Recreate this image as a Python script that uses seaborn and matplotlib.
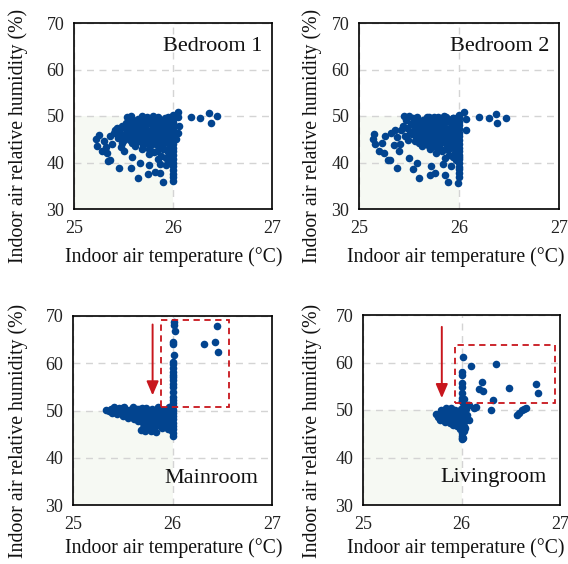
import numpy as np
import pandas as pd
import matplotlib
matplotlib.use("Agg")
import matplotlib.pyplot as plt
import seaborn as sns
from matplotlib.patches import Rectangle

sns.set_theme(style="white")
plt.rcParams['font.family'] = ['Liberation Serif', 'DejaVu Serif']

# ---------------- data ----------------
rooms = ["Bedroom 1", "Bedroom 2", "Mainroom", "Livingroom"]

bed1_x = [25.22, 25.25, 25.23, 25.28, 25.33, 25.32, 25.36, 25.34, 25.45, 25.58, 25.65, 25.67, 25.75,
          25.76, 25.82, 25.87, 25.90, 25.87, 25.93, 25.59, 25.50, 25.47, 25.40, 25.36, 25.30, 25.38,
          26.18, 26.27, 26.36, 26.44, 26.38, 26.05, 26.05, 26.06, 26.05, 26.03,
          26.00, 26.00, 26.00, 26.00, 26.00, 26.00, 26.00, 26.00, 26.00, 26.00, 26.00, 26.00, 26.00,
          26.00, 26.00, 26.00, 26.00, 26.00, 26.00,
          25.97, 25.97, 25.97, 25.97, 25.97, 25.97, 25.97,
          25.43, 25.45, 25.47, 25.48, 25.50, 25.52, 25.53, 25.54, 25.56, 25.57, 25.58, 25.59, 25.60,
          25.61, 25.62, 25.63, 25.64, 25.65, 25.66, 25.67, 25.68, 25.69, 25.70, 25.71, 25.72, 25.73,
          25.74, 25.75, 25.76, 25.77, 25.78, 25.79, 25.80, 25.81, 25.82, 25.83, 25.84, 25.85, 25.86,
          25.87, 25.88, 25.89, 25.90, 25.91, 25.92, 25.93, 25.94, 25.95, 25.96, 25.97, 25.98, 25.99,
          25.55, 25.62, 25.68, 25.72, 25.78, 25.83, 25.88, 25.92, 25.60, 25.66, 25.74, 25.80, 25.86,
          25.90, 25.94, 25.70, 25.76, 25.84, 25.52, 25.58, 25.64, 25.80, 25.88, 25.96, 25.93, 25.85,
          25.48, 25.44, 25.41,
          25.56, 25.58, 25.61, 25.63, 25.65, 25.67, 25.69, 25.71, 25.73, 25.75, 25.77, 25.79, 25.81,
          25.83, 25.85, 25.87, 25.89, 25.91, 25.93, 25.95,
          25.57, 25.60, 25.63, 25.66, 25.69, 25.72, 25.75, 25.78, 25.81, 25.84, 25.87, 25.90, 25.93,
          25.96, 25.98, 25.98, 25.95, 25.92, 25.89, 25.86]
bed1_y = [45.0, 45.9, 43.6, 42.4, 42.0, 43.4, 40.6, 40.4, 38.8, 38.8, 36.6, 39.9, 37.6,
          39.4, 37.9, 37.7, 35.9, 39.7, 39.4, 41.1, 42.4, 43.4, 46.3, 45.7, 44.6, 44.0,
          49.7, 49.6, 50.6, 50.0, 48.6, 50.8, 49.7, 47.8, 46.4, 45.0,
          36.0, 36.8, 37.6, 38.4, 39.2, 40.0, 40.8, 41.6, 42.4, 43.2, 44.0, 44.8, 45.6,
          46.4, 47.2, 48.0, 48.8, 49.6, 50.2,
          40.5, 42.0, 43.5, 45.0, 46.5, 48.0, 49.5,
          47.5, 46.8, 45.5, 47.9, 44.9, 46.2, 48.6, 49.8, 47.2, 45.3, 49.9, 44.1, 48.1,
          46.5, 43.5, 49.0, 45.8, 47.6, 44.6, 48.9, 46.9, 42.9, 45.2, 49.5, 47.8, 44.2,
          46.4, 48.4, 43.0, 45.9, 49.3, 47.1, 44.7, 42.2, 46.0, 48.7, 45.0, 49.8, 43.6,
          47.4, 41.4, 45.7, 48.3, 44.2, 49.6, 46.6, 42.7, 47.9, 45.1, 49.1, 43.9, 46.9,
          46.0, 47.5, 45.0, 46.2, 46.5, 44.0, 46.0, 47.0, 45.0, 48.0, 49.8, 48.0, 45.5,
          43.0, 44.5, 43.8, 41.8, 42.5, 47.5, 47.0, 46.8, 49.9, 49.0, 48.5, 41.0, 40.8,
          44.2, 45.2, 46.9,
          48.8, 46.4, 47.9, 44.9, 49.4, 46.2, 48.0, 44.6, 47.0, 49.0, 44.8, 48.1, 45.6,
          47.6, 46.8, 49.0, 44.4, 47.2, 45.4, 49.8,
          44.8, 49.2, 45.2, 46.9, 49.9, 48.7, 45.7, 43.8, 48.9, 46.7, 44.6, 46.9, 48.6,
          43.9, 45.7, 48.3, 42.3, 45.9, 43.2, 47.9]

bed2_x = [25.15, 25.14, 25.16, 25.20, 25.23, 25.25, 25.26, 25.29, 25.31, 25.32, 25.35, 25.38, 25.40,
          25.50, 25.54, 25.58, 25.60, 25.72, 25.71, 25.76, 25.84, 25.86, 25.89, 25.92, 25.99, 26.00,
          26.00, 25.45, 25.50, 25.70, 25.85,
          26.20, 26.30, 26.37, 26.47, 26.38, 26.05, 26.07, 26.07,
          26.00, 26.00, 26.00, 26.00, 26.00, 26.00, 26.00, 26.00, 26.00, 26.00, 26.00, 26.00, 26.00,
          26.00, 26.00, 26.00, 26.00,
          25.97, 25.97, 25.97, 25.97, 25.97, 25.97, 25.97,
          25.42, 25.44, 25.46, 25.47, 25.49, 25.51, 25.52, 25.54, 25.55, 25.57, 25.58, 25.60, 25.61,
          25.62, 25.63, 25.65, 25.66, 25.67, 25.68, 25.69, 25.70, 25.71, 25.72, 25.73, 25.74, 25.75,
          25.76, 25.77, 25.78, 25.79, 25.80, 25.81, 25.82, 25.83, 25.84, 25.85, 25.86, 25.87, 25.88,
          25.89, 25.90, 25.91, 25.92, 25.93, 25.94, 25.95, 25.96, 25.97, 25.98, 25.99, 25.99, 25.98,
          25.99, 25.98,
          25.53, 25.61, 25.67, 25.73, 25.79, 25.82, 25.88, 25.93, 25.59, 25.65, 25.75, 25.81, 25.87,
          25.91, 25.95, 25.69, 25.77, 25.83, 25.48, 25.56, 25.63, 25.79, 25.89, 25.95, 25.94, 25.86,
          25.41, 25.38, 25.36,
          25.55, 25.57, 25.60, 25.62, 25.64, 25.66, 25.68, 25.70, 25.72, 25.74, 25.76, 25.78, 25.80,
          25.82, 25.84, 25.86, 25.88, 25.90, 25.92, 25.94,
          25.56, 25.59, 25.62, 25.65, 25.68, 25.71, 25.74, 25.77, 25.80, 25.83, 25.86, 25.89, 25.92,
          25.95, 25.97, 25.98, 25.96, 25.91, 25.88, 25.85]
bed2_y = [46.2, 45.1, 43.9, 42.5, 44.1, 42.1, 45.6, 40.6, 40.6, 46.3, 43.7, 38.8, 42.5,
          41.0, 38.7, 39.8, 36.6, 39.3, 37.4, 37.7, 39.6, 37.3, 35.7, 39.2, 35.6, 36.9,
          39.0, 50.1, 50.1, 49.8, 49.9,
          49.8, 49.5, 50.4, 49.5, 48.5, 50.8, 49.3, 46.9,
          37.8, 38.6, 40.0, 40.8, 41.6, 42.4, 43.2, 44.0, 44.8, 45.6, 46.4, 47.2, 48.0,
          48.8, 49.6, 50.2, 41.2,
          40.5, 42.0, 43.5, 45.0, 46.5, 48.0, 49.5,
          46.9, 47.8, 45.6, 49.2, 44.8, 46.4, 48.2, 49.6, 47.0, 45.1, 49.8, 44.3, 48.0,
          46.6, 43.6, 49.1, 45.6, 47.5, 44.4, 48.8, 46.7, 43.0, 45.4, 49.4, 47.7, 44.0,
          46.6, 48.5, 43.2, 45.8, 49.2, 47.0, 44.9, 42.4, 46.1, 48.6, 45.2, 49.7, 43.4,
          47.3, 41.6, 45.5, 48.4, 44.0, 49.5, 46.8, 42.9, 47.8, 45.3, 49.0, 44.1, 46.7,
          42.8, 48.2,
          46.2, 47.4, 45.2, 46.0, 46.3, 44.2, 46.2, 47.1, 45.2, 47.9, 49.7, 48.1, 45.7,
          43.2, 44.6, 43.7, 42.0, 42.7, 47.4, 47.1, 46.9, 49.8, 49.1, 48.6, 41.2, 40.9,
          44.0, 45.4, 47.0,
          48.6, 46.2, 47.7, 44.7, 49.2, 46.0, 47.8, 44.4, 46.8, 48.8, 44.6, 47.9, 45.4,
          47.4, 46.6, 48.8, 44.2, 47.0, 45.2, 49.6,
          44.6, 49.0, 45.0, 46.7, 49.7, 48.5, 45.5, 43.6, 48.7, 46.5, 44.4, 46.7, 48.4,
          43.7, 45.5, 48.1, 42.1, 45.7, 43.0, 47.7]

main_x = [25.33, 25.36, 25.38, 25.40, 25.42, 25.44, 25.46, 25.48, 25.50, 25.51, 25.53, 25.55, 25.56,
          25.58, 25.60, 25.61, 25.63, 25.65, 25.66, 25.68, 25.70, 25.71, 25.73, 25.74, 25.76, 25.77,
          25.79, 25.80, 25.82, 25.83, 25.85, 25.86, 25.88, 25.89, 25.90, 25.92, 25.93, 25.95, 25.96,
          25.97, 25.98, 25.99,
          26.00, 26.00, 26.00, 26.00, 26.00, 26.00, 26.00, 26.00, 26.00, 26.00,
          25.70, 25.72, 25.75, 25.78, 25.80, 25.83, 25.68,
          25.45, 25.52, 25.58, 25.64, 25.70, 25.76, 25.84, 25.90, 25.94, 25.62, 25.87,
          26.02, 26.02, 26.03, 26.00, 26.01, 26.02, 26.00, 26.01, 26.00, 26.00, 26.00, 26.00, 26.00,
          26.00, 26.00, 26.01, 26.00, 26.01, 26.00,
          26.45, 26.32, 26.43, 26.46,
          25.39, 25.41, 25.43, 25.47, 25.49, 25.54, 25.57, 25.59, 25.62, 25.64, 25.67, 25.69, 25.72,
          25.75, 25.78, 25.81, 25.84, 25.87, 25.91, 25.94, 25.97, 25.99, 25.96, 25.93, 25.88, 25.82,
          25.77, 25.73, 25.69, 25.66]
main_y = [50.1, 49.9, 50.4, 49.6, 50.3, 49.2, 50.6, 49.8, 48.9, 50.8, 49.5, 48.4, 50.2,
          49.0, 50.7, 48.2, 49.6, 47.8, 50.3, 48.9, 47.3, 49.7, 50.6, 48.4, 47.0, 49.2,
          50.4, 48.0, 46.8, 49.5, 50.8, 47.6, 48.8, 46.3, 50.2, 47.9, 49.3, 46.0, 50.7,
          48.5, 45.8, 47.2,
          44.6, 45.3, 46.0, 46.7, 47.4, 48.1, 48.8, 49.5, 50.2, 50.9,
          46.3, 45.7, 46.2, 45.6, 45.9, 45.4, 45.9,
          49.7, 49.9, 50.1, 48.6, 49.0, 48.3, 48.1, 49.0, 48.0, 50.0, 50.0,
          68.7, 68.0, 66.8, 64.5, 64.1, 61.7, 60.3, 59.9, 58.2, 57.5, 56.4, 55.7, 53.9,
          52.9, 52.2, 51.5, 55.0, 57.0, 59.0,
          67.8, 64.0, 64.6, 62.4,
          49.4, 50.7, 49.9, 50.0, 50.5, 49.1, 49.7, 48.7, 49.3, 50.4, 49.1, 48.1, 48.9,
          49.6, 47.7, 49.9, 47.0, 49.4, 48.4, 49.9, 46.6, 48.9, 47.4, 46.8, 47.4, 48.4,
          47.8, 47.5, 50.5, 49.4]

living_x = [26.02, 26.10, 26.35, 26.00, 26.00, 26.01, 26.01, 26.21, 26.18, 26.22, 26.48, 26.76, 26.78,
            26.32, 26.30, 26.01, 26.01, 26.01, 26.15, 26.13, 26.07,
            26.56, 26.58, 26.61, 26.63, 26.65,
            25.74, 25.79, 25.84, 25.89, 25.93, 25.78, 25.83, 25.88, 25.91, 25.95, 25.98, 26.00, 26.00,
            26.00, 26.05, 26.08, 26.08, 26.05, 25.82, 25.86, 25.90, 25.94, 25.97, 25.96, 25.99, 26.02,
            26.03, 26.01, 26.00, 26.02, 26.03, 25.92, 25.87, 26.00, 26.06, 25.80, 26.04, 26.01, 26.03,
            25.76, 25.81, 25.85, 25.90, 25.95, 25.99, 26.02, 26.04, 25.86, 25.93, 25.97, 26.01, 26.03,
            25.84, 25.89, 25.94, 26.00, 26.02]
living_y = [61.2, 59.3, 59.7, 57.9, 57.3, 55.6, 54.9, 55.9, 54.4, 53.9, 54.7, 55.5, 53.6,
            52.1, 49.9, 53.5, 52.5, 51.8, 50.7, 50.5, 51.0,
            48.9, 49.4, 49.9, 50.3, 50.5,
            49.2, 50.0, 50.4, 50.4, 50.1, 47.9, 47.5, 47.2, 46.8, 46.7, 46.1, 45.1, 44.1,
            43.8, 47.9, 47.9, 51.0, 50.2, 48.6, 49.2, 48.1, 49.0, 47.6, 48.8, 50.3, 49.3,
            48.5, 46.9, 45.8, 51.5, 52.3, 49.7, 48.3, 47.3, 49.0, 48.8, 46.3, 44.6, 45.5,
            48.6, 49.4, 49.8, 49.6, 49.6, 48.9, 47.9, 50.8, 47.8, 47.8, 47.0, 48.0, 46.6,
            48.0, 49.9, 48.3, 52.0, 44.2]

room_x = [bed1_x, bed2_x, main_x, living_x]
room_y = [bed1_y, bed2_y, main_y, living_y]

# red annotation boxes / arrows (data units): rooms 3 and 4
boxes = {2: (25.88, 50.8, 26.57, 69.2), 3: (25.93, 51.5, 26.95, 63.7)}
arrows = {2: (25.80, 68.2, 53.2), 3: (25.80, 67.5, 52.5)}

# ---------------- figure ----------------
W, H = 568, 564
fig = plt.figure(figsize=(W / 100, H / 100), dpi=100)
fig.patch.set_facecolor("white")

rects_px = [(74, 23, 272, 209), (359, 23, 559, 209), (73, 316, 272, 505), (363, 315, 560, 505)]
xlab_c = [(174, 257), (456, 257), (174, 548), (456, 548)]
ylab_c = [(18, 136), (312, 136), (18, 431), (312, 431)]
dot = "#02448f"
red = "#c8161d"

for i, (l, t, r, b) in enumerate(rects_px):
    ax = fig.add_axes([l / W, (H - b) / H, (r - l) / W, (b - t) / H])
    df = pd.DataFrame({"T": room_x[i], "RH": room_y[i]})
    ax.add_patch(Rectangle((25, 30), 1, 20, facecolor="#f6f9f3", edgecolor="none", zorder=0.2))
    sns.scatterplot(data=df, x="T", y="RH", ax=ax, color=dot, s=30, edgecolor=dot, linewidth=0,
                    zorder=3, legend=False)
    ax.set_xlim(25, 27)
    ax.set_ylim(30, 70)
    ax.set_xticks([25, 26, 27])
    ax.set_yticks([30, 40, 50, 60, 70])
    ax.set_axisbelow(True)
    ax.grid(True, color="#d4d4d4", linestyle=(0, (5, 4)), linewidth=1.0)
    for s in ax.spines.values():
        s.set_color("black")
        s.set_linewidth(1.2)
        s.set_zorder(5)
    ax.tick_params(axis="both", length=0, labelsize=13, colors="#222222")
    ax.tick_params(axis="x", pad=8)
    ax.tick_params(axis="y", pad=7)
    ax.set_xlabel("Indoor air temperature (°C)", fontsize=14.2, color="#111111")
    ax.set_ylabel("Indoor air relative humidity (%)", fontsize=14.2, color="#111111")
    ax.xaxis.label.set_va("center")
    ax.yaxis.label.set_va("center")
    xc, yc = xlab_c[i]
    ax.xaxis.set_label_coords(xc / W, 1 - yc / H, transform=fig.transFigure)
    xc, yc = ylab_c[i]
    ax.yaxis.set_label_coords(xc / W, 1 - yc / H, transform=fig.transFigure)
    if i < 2:
        ax.text(26.90, 65.0, rooms[i], ha="right", va="center", fontsize=16, color="#111111")
    else:
        ax.text(26.86, 35.7, rooms[i], ha="right", va="center", fontsize=16, color="#111111")
    if i in boxes:
        x0, y0, x1, y1 = boxes[i]
        ax.add_patch(Rectangle((x0, y0), x1 - x0, y1 - y0, fill=False, edgecolor=red,
                               linewidth=1.3, linestyle=(0, (3.5, 2.5)), zorder=4))
        ax_, ytop, ytip = arrows[i]
        ax.annotate("", xy=(ax_, ytip), xytext=(ax_, ytop),
                    arrowprops=dict(arrowstyle="-|>,head_length=0.7,head_width=0.3",
                                    color=red, lw=1.4, shrinkA=0, shrinkB=0), zorder=4)

fig.savefig("out.png", dpi=100, facecolor="white")
